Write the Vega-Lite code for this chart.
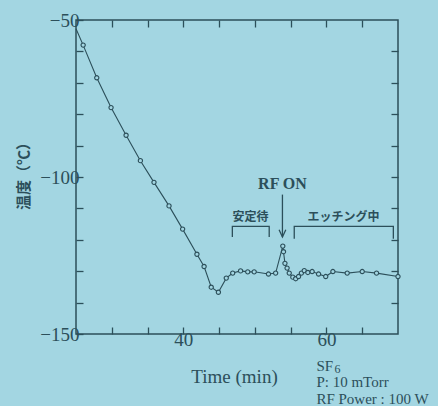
{
  "$schema": "https://vega.github.io/schema/vega-lite/v6.json",
  "width": 322,
  "height": 314,
  "autosize": {"type": "none"},
  "padding": {"left": 76, "top": 20, "right": 40, "bottom": 72},
  "background": "#a3d6e2",
  "config": {
    "view": {"stroke": "#2c4f5a", "strokeWidth": 1.5},
    "axis": {
      "grid": false, "domain": false, "tickColor": "#2c4f5a", "tickWidth": 1.3,
      "labelColor": "#2c4f5a", "labelFont": "Liberation Serif", "labelFontSize": 19, "labelFontWeight": "normal",
      "titleColor": "#2c4f5a"
    }
  },
  "datasets": {
    "temp": [
      {"t": 25.0, "v": -52.8}, {"t": 26.0, "v": -58.0}, {"t": 27.9, "v": -68.4}, {"t": 29.9, "v": -77.9},
      {"t": 32.0, "v": -86.7}, {"t": 34.0, "v": -94.8}, {"t": 35.9, "v": -101.7}, {"t": 38.0, "v": -109.2},
      {"t": 39.9, "v": -116.6}, {"t": 41.9, "v": -124.6}, {"t": 42.9, "v": -128.5}, {"t": 43.9, "v": -135.1},
      {"t": 44.9, "v": -136.7}, {"t": 46.0, "v": -132.2}, {"t": 46.9, "v": -130.6}, {"t": 48.0, "v": -129.9},
      {"t": 49.0, "v": -130.2}, {"t": 49.9, "v": -130.2}, {"t": 51.9, "v": -130.9}, {"t": 52.9, "v": -130.6},
      {"t": 53.9, "v": -122.0}, {"t": 54.0, "v": -123.8}, {"t": 54.2, "v": -127.5}, {"t": 54.5, "v": -129.0},
      {"t": 54.8, "v": -130.6}, {"t": 55.3, "v": -131.9}, {"t": 55.7, "v": -132.4}, {"t": 56.1, "v": -131.7},
      {"t": 56.5, "v": -130.6}, {"t": 56.9, "v": -129.8}, {"t": 57.4, "v": -130.4}, {"t": 58.0, "v": -130.1},
      {"t": 58.9, "v": -130.9}, {"t": 59.9, "v": -131.7}, {"t": 60.9, "v": -130.1}, {"t": 62.9, "v": -130.6},
      {"t": 65.0, "v": -130.1}, {"t": 67.0, "v": -130.6}, {"t": 70.0, "v": -131.7}
    ],
    "brackets": [
      {"g": "a", "i": 0, "t": 46.85, "v": -119.1}, {"g": "a", "i": 1, "t": 46.85, "v": -115.75},
      {"g": "a", "i": 2, "t": 52.0, "v": -115.75}, {"g": "a", "i": 3, "t": 52.0, "v": -119.1},
      {"g": "b", "i": 0, "t": 55.5, "v": -119.7}, {"g": "b", "i": 1, "t": 55.5, "v": -115.75},
      {"g": "b", "i": 2, "t": 69.35, "v": -115.75}, {"g": "b", "i": 3, "t": 69.35, "v": -119.7},
      {"g": "c", "i": 0, "t": 53.85, "v": -105.6}, {"g": "c", "i": 1, "t": 53.85, "v": -119.1},
      {"g": "d", "i": 0, "t": 53.38, "v": -116.8}, {"g": "d", "i": 1, "t": 53.85, "v": -119.1},
      {"g": "d", "i": 2, "t": 54.32, "v": -116.8}
    ],
    "labels": [
      {"t": 53.85, "v": -103.8, "txt": "RF ON", "kind": "rf"},
      {"t": 49.4, "v": -113.9, "txt": "安定待", "kind": "jp"},
      {"t": 62.4, "v": -113.9, "txt": "エッチング中", "kind": "jp"}
    ]
  },
  "layer": [
    {
      "data": {"name": "temp"},
      "mark": {"type": "line", "color": "#2c4f5a", "strokeWidth": 1.1},
      "encoding": {
        "x": {
          "field": "t", "type": "quantitative",
          "scale": {"domain": [25, 70], "nice": false, "zero": false},
          "axis": {
            "orient": "bottom", "values": [30, 35, 40, 45, 50, 55, 60, 65], "tickSize": -7,
            "labelPadding": 3,
            "labelExpr": "datum.value == 40 || datum.value == 60 ? datum.label : ''",
            "title": "Time (min)", "titleFont": "Liberation Serif", "titleFontSize": 19, "titleFontWeight": "normal",
            "titleX": 158, "titleY": 48, "titleAlign": "center", "titleBaseline": "alphabetic"
          }
        },
        "y": {
          "field": "v", "type": "quantitative",
          "scale": {"domain": [-150, -50], "nice": false, "zero": false},
          "axis": {
            "orient": "left", "values": [-50, -60, -70, -80, -90, -100, -110, -120, -130, -140, -150], "tickSize": -7,
            "labelPadding": 4,
            "labelExpr": "datum.value % 50 == 0 ? datum.label : ''",
            "title": "温度（℃）", "titleFont": "Noto Sans CJK JP", "titleFontSize": 15, "titleFontWeight": "bold",
            "titleX": -53, "titleY": 152, "titleAlign": "center", "titleBaseline": "middle", "titleAngle": -90
          }
        }
      }
    },
    {
      "data": {"name": "temp"},
      "transform": [{"filter": "datum.t > 25.5"}],
      "mark": {"type": "point", "shape": "circle", "size": 18, "filled": true, "fill": "#a3d6e2", "stroke": "#2c4f5a", "strokeWidth": 1.1, "opacity": 1},
      "encoding": {
        "x": {"field": "t", "type": "quantitative", "axis": {"orient": "top", "values": [30, 35, 40, 45, 50, 55, 60, 65], "tickSize": -7, "labels": false, "title": null}},
        "y": {"field": "v", "type": "quantitative", "axis": {"orient": "right", "values": [-60, -70, -80, -90, -100, -110, -120, -130, -140], "tickSize": -7, "labels": false, "title": null}}
      }
    },
    {
      "data": {"name": "brackets"},
      "mark": {"type": "line", "color": "#2c4f5a", "strokeWidth": 1.3},
      "encoding": {
        "x": {"field": "t", "type": "quantitative", "axis": null},
        "y": {"field": "v", "type": "quantitative", "axis": null},
        "detail": {"field": "g"},
        "order": {"field": "i"}
      }
    },
    {
      "data": {"name": "labels"},
      "transform": [{"filter": "datum.kind == 'rf'"}],
      "mark": {"type": "text", "font": "Liberation Serif", "fontSize": 16, "fontWeight": "bold", "color": "#2c4f5a", "baseline": "alphabetic", "align": "center"},
      "encoding": {
        "x": {"field": "t", "type": "quantitative", "axis": null},
        "y": {"field": "v", "type": "quantitative", "axis": null},
        "text": {"field": "txt"}
      }
    },
    {
      "data": {"name": "labels"},
      "transform": [{"filter": "datum.kind == 'jp'"}],
      "mark": {"type": "text", "font": "Noto Sans CJK JP", "fontSize": 12, "fontWeight": "bold", "color": "#2c4f5a", "baseline": "alphabetic", "align": "center"},
      "encoding": {
        "x": {"field": "t", "type": "quantitative", "axis": null},
        "y": {"field": "v", "type": "quantitative", "axis": null},
        "text": {"field": "txt"}
      }
    },
    {
      "data": {"values": [{"t": 58.6, "v": -161.7, "txt": "SF"}]},
      "mark": {"type": "text", "font": "Liberation Serif", "fontSize": 15, "color": "#2c4f5a", "baseline": "alphabetic", "align": "left", "clip": false},
      "encoding": {
        "x": {"field": "t", "type": "quantitative", "axis": null},
        "y": {"field": "v", "type": "quantitative", "axis": null},
        "text": {"field": "txt"}
      }
    },
    {
      "data": {"values": [{"t": 58.6, "v": -161.7, "txt": "6"}]},
      "mark": {"type": "text", "font": "Liberation Serif", "fontSize": 12, "color": "#2c4f5a", "baseline": "alphabetic", "align": "left", "dx": 18, "dy": 2, "clip": false},
      "encoding": {
        "x": {"field": "t", "type": "quantitative", "axis": null},
        "y": {"field": "v", "type": "quantitative", "axis": null},
        "text": {"field": "txt"}
      }
    },
    {
      "data": {"values": [{"t": 58.6, "v": -167.0, "txt": ["P: 10 mTorr", "RF Power : 100 W"]}]},
      "mark": {"type": "text", "font": "Liberation Serif", "fontSize": 15, "color": "#2c4f5a", "baseline": "alphabetic", "align": "left", "lineHeight": 16.5, "clip": false},
      "encoding": {
        "x": {"field": "t", "type": "quantitative", "axis": null},
        "y": {"field": "v", "type": "quantitative", "axis": null},
        "text": {"field": "txt"}
      }
    }
  ]
}
